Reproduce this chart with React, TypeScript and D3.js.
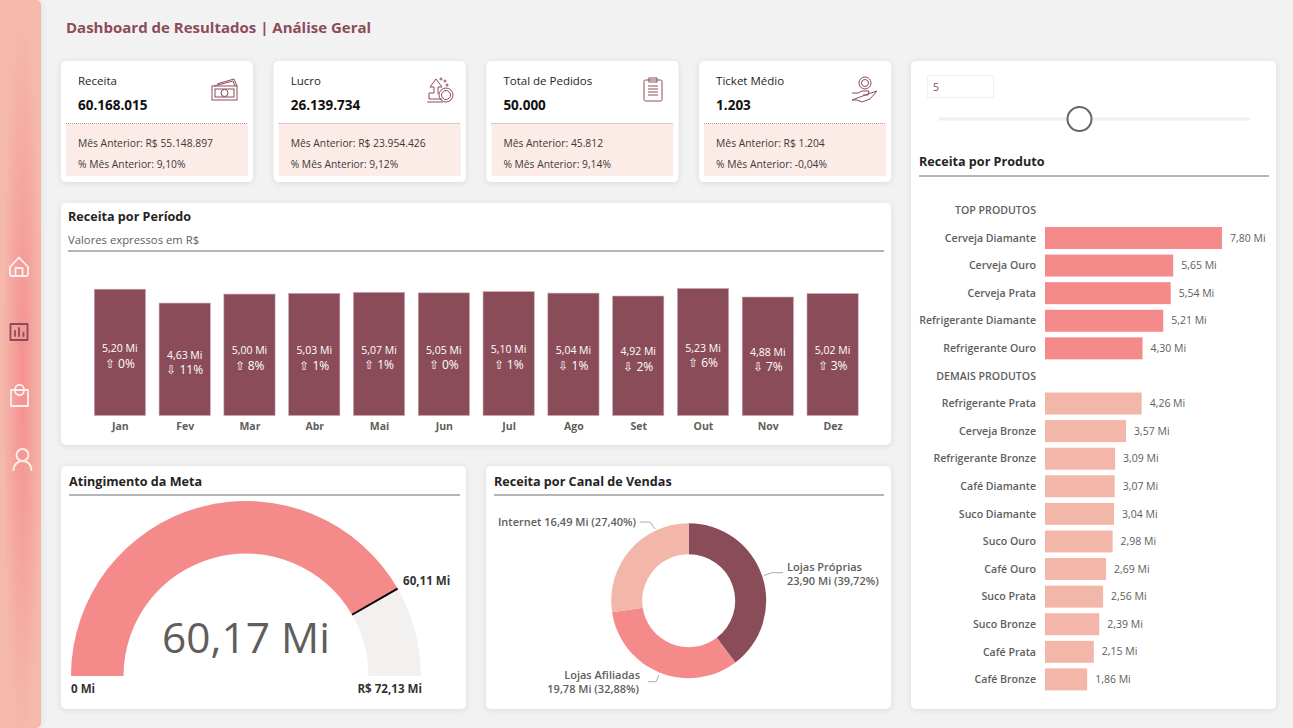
import * as d3 from 'd3';

const FONT = '"Open Sans", sans-serif';
const WINE = '#8b4c5a';
const PINK = '#f58a8a';
const PEACH = '#f2b7a9';
const BLUSH = '#fcece8';
const TEXT = '#252423';
const GREY = '#605e5c';

const kpiTitles = ['Receita', 'Lucro', 'Total de Pedidos', 'Ticket Médio'];
const kpiValues = ['60.168.015', '26.139.734', '50.000', '1.203'];
const kpiPrevious = ['Mês Anterior: R$ 55.148.897', 'Mês Anterior: R$ 23.954.426', 'Mês Anterior: 45.812', 'Mês Anterior: R$ 1.204'];
const kpiChange = ['% Mês Anterior: 9,10%', '% Mês Anterior: 9,12%', '% Mês Anterior: 9,14%', '% Mês Anterior: -0,04%'];

const months = ['Jan', 'Fev', 'Mar', 'Abr', 'Mai', 'Jun', 'Jul', 'Ago', 'Set', 'Out', 'Nov', 'Dez'];
const monthRevenue = [5.2, 4.63, 5.0, 5.03, 5.07, 5.05, 5.1, 5.04, 4.92, 5.23, 4.88, 5.02];
const monthChange = ['⇧ 0%', '⇩ 11%', '⇧ 8%', '⇧ 1%', '⇧ 1%', '⇧ 0%', '⇧ 1%', '⇩ 1%', '⇩ 2%', '⇧ 6%', '⇩ 7%', '⇧ 3%'];

const topProducts = ['Cerveja Diamante', 'Cerveja Ouro', 'Cerveja Prata', 'Refrigerante Diamante', 'Refrigerante Ouro'];
const topRevenue = [7.8, 5.65, 5.54, 5.21, 4.3];
const otherProducts = ['Refrigerante Prata', 'Cerveja Bronze', 'Refrigerante Bronze', 'Café Diamante', 'Suco Diamante', 'Suco Ouro', 'Café Ouro', 'Suco Prata', 'Suco Bronze', 'Café Prata', 'Café Bronze'];
const otherRevenue = [4.26, 3.57, 3.09, 3.07, 3.04, 2.98, 2.69, 2.56, 2.39, 2.15, 1.86];
const TOP_HEADER = 'TOP PRODUTOS';
const OTHER_HEADER = 'DEMAIS PRODUTOS';

const channels = ['Lojas Próprias', 'Lojas Afiliadas', 'Internet'];
const channelRevenue = [23.9, 19.78, 16.49];
const channelColors = [WINE, PINK, PEACH];

const gaugeValue = 60.17;
const gaugeTarget = 60.11;
const gaugeMax = 72.13;

const mi = (v: number) => `${v.toFixed(2).replace('.', ',')} Mi`;

function Card({ x, y, w, h }: { x: number; y: number; w: number; h: number }) {
  return <rect x={x} y={y} width={w} height={h} rx={5} fill="#fff" filter="url(#shadow)" />;
}

function Heading({ x, y, x2, ly, label }: { x: number; y: number; x2: number; ly: number; label: string }) {
  return (
    <g>
      <text x={x} y={y + 0.5} dy="0.35em" fontSize={12.6} fontWeight={700} fill={TEXT}>{label}</text>
      <line x1={x} x2={x2} y1={ly} y2={ly} stroke="#6f6f6f" strokeWidth={1} />
    </g>
  );
}

// little outline icons for the KPI cards
function KpiIcon({ kind, x }: { kind: number; x: number }) {
  const s = { fill: 'none', stroke: WINE, strokeWidth: 1 };
  return (
    <g transform={`translate(${x},76)`} {...s}>
      {kind === 0 && (
        <g>
          <rect x={0} y={10} width={25} height={14} />
          <rect x={3} y={13} width={19} height={8} />
          <circle cx={12.5} cy={17} r={3.5} />
          <path d="M2 10 L21 5 L23 10 M5 8 L22 3 L25 10" />
        </g>
      )}
      {kind === 1 && (
        <g>
          <path d="M2 23 V17 H7 V11 H3 L9 3 L15 11 H11 V18" />
          <path d="M0 26 H16 M2 23 H15" />
          <circle cx={19} cy={19} r={7} />
          <circle cx={19} cy={19} r={4.5} />
          <circle cx={14} cy={3} r={1} />
          <circle cx={18} cy={5} r={1} />
          <circle cx={20} cy={9} r={1} />
        </g>
      )}
      {kind === 2 && (
        <g>
          <rect x={0} y={4} width={18} height={21} rx={1.5} />
          <rect x={5} y={2} width={8} height={4} />
          <path d="M4 10 H14 M4 13 H14 M4 16 H14 M4 19 H14" />
        </g>
      )}
      {kind === 3 && (
        <g>
          <circle cx={13} cy={7} r={6} />
          <circle cx={13} cy={7} r={3.5} />
          <path d="M0 17 H6 L10 15 H17 L16 19 H11 M16 18 L25 15 L18 23 L10 26 L5 24 H0 Z" />
        </g>
      )}
    </g>
  );
}

export default function App() {
  // monthly bars
  const xMonth = d3.scaleBand<string>().domain(months).range([87.5, 865]).paddingInner(0.21).paddingOuter(0.105);
  const yMonth = d3.scaleLinear().domain([0, 5.23]).range([415.5, 288.5]);

  // product rows, the two group headers take a row each
  const productRows = [TOP_HEADER, ...topProducts, OTHER_HEADER, ...otherProducts];
  const yProduct = d3.scalePoint<string>().domain(productRows).range([210.4, 679.4]);
  const xProduct = d3.scaleLinear().domain([0, 7.8]).range([1045, 1222]);

  // gauge
  const gaugeAngle = d3.scaleLinear().domain([0, gaugeMax]).range([-Math.PI / 2, Math.PI / 2]);
  const gaugeArc = d3.arc<unknown, { a: number; b: number }>()
    .innerRadius(122.5).outerRadius(175)
    .startAngle(d => d.a).endAngle(d => d.b);
  const targetA = gaugeAngle(gaugeTarget);

  // donut
  const pie = d3.pie<number>().sort(null)(channelRevenue);
  const donut = d3.arc<d3.PieArcDatum<number>>().innerRadius(46.5).outerRadius(77.5);

  const cardStep = 212.7;

  return (
    <svg width={1293} height={728} style={{ position: 'absolute', left: 0, top: 0, display: 'block' }} fontFamily={FONT}>
      <defs>
        <filter id="shadow" x="-10%" y="-10%" width="120%" height="125%">
          <feDropShadow dx={0} dy={1} stdDeviation={3} floodColor="#000" floodOpacity={0.1} />
        </filter>
        <radialGradient id="glow" cx="0.55" cy="0.52" r="0.5">
          <stop offset="0" stopColor="#f5908f" stopOpacity={1} />
          <stop offset="0.45" stopColor="#f5908f" stopOpacity={0.55} />
          <stop offset="1" stopColor="#f5908f" stopOpacity={0} />
        </radialGradient>
      </defs>

      <rect width={1293} height={728} fill="#f3f2f3" />

      {/* side bar */}
      <rect x={-6} y={0} width={47} height={728} rx={5} fill="#f5b9ac" filter="url(#shadow)" />
      <rect x={0} y={0} width={41} height={728} fill="url(#glow)" />
      <g fill="none" stroke="#fdf1ee" strokeWidth={1.8} strokeLinejoin="round" strokeLinecap="round">
        <path d="M10 267 L19 257.5 L28 267 V274 Q28 276 26 276 H12 Q10 276 10 274 Z M15.5 276 V268 H22.5 V276" />
        <g stroke={WINE}>
          <rect x={10.5} y={324} width={17} height={16} />
          <path d="M15 336 V331 M19 336 V328 M23.5 336 V333" />
        </g>
        <path d="M11 390 H28 V406 H11 Z M15 390 C15 383 24 383 24 390 C24 397 15 397 15 390" />
        <circle cx={22.5} cy={455} r={6} />
        <path d="M13.5 470 C14 458 31 458 31.5 470" />
      </g>

      <text x={66} y={28} dy="0.35em" fontSize={15} fontWeight={700} fill={WINE}>Dashboard de Resultados | Análise Geral</text>

      {/* KPI cards */}
      {kpiTitles.map((title, i) => {
        const x = 61 + i * cardStep;
        return (
          <g key={title}>
            <Card x={x} y={61} w={192} h={121} />
            <rect x={x + 5} y={124} width={182} height={52} fill={BLUSH} />
            <line x1={x + 5} x2={x + 187} y1={123.5} y2={123.5} stroke="#b98f93" strokeDasharray="1 1" />
            <text x={x + 17} y={81} dy="0.35em" fontSize={11.5} fill={TEXT}>{title}</text>
            <text x={x + 17} y={105} dy="0.35em" fontSize={13.5} fontWeight={700} fill="#111">{kpiValues[i]}</text>
            <text x={x + 17} y={143} dy="0.35em" fontSize={10.3} fill="#3b3a39">{kpiPrevious[i]}</text>
            <text x={x + 17} y={164} dy="0.35em" fontSize={10.3} fill="#3b3a39">{kpiChange[i]}</text>
            <KpiIcon kind={i} x={[212, 427, 644, 852][i]} />
          </g>
        );
      })}

      {/* revenue by period */}
      <Card x={61} y={203} w={830} h={242} />
      <Heading x={68} y={216} x2={884} ly={251} label="Receita por Período" />
      <text x={68} y={240} dy="0.35em" fontSize={11.3} fill={GREY}>Valores expressos em R$</text>
      {months.map((m, i) => {
        const v = monthRevenue[i];
        const cx = xMonth(m)! + xMonth.bandwidth() / 2;
        const mid = (yMonth(v) + yMonth(0)) / 2;
        return (
          <g key={m} textAnchor="middle">
            <rect x={xMonth(m)} y={yMonth(v)} width={xMonth.bandwidth()} height={yMonth(0) - yMonth(v)} fill={WINE} stroke="#c9a3ad" strokeWidth={0.6} />
            <text x={cx} y={mid - 4} dy="0.35em" fontSize={10.5} fill="#fff">{mi(v)}</text>
            <text x={cx} y={mid + 11} dy="0.35em" fontSize={12} fill="#fff">{monthChange[i]}</text>
            <text x={cx + 0.5} y={426} dy="0.35em" fontSize={10.5} fontWeight={700} fill={GREY}>{m}</text>
          </g>
        );
      })}

      {/* gauge */}
      <Card x={61} y={466} w={405} h={243} />
      <Heading x={69} y={481} x2={460} ly={495} label="Atingimento da Meta" />
      <g transform="translate(246,676)">
        <path d={gaugeArc({ a: gaugeAngle(0), b: gaugeAngle(gaugeMax) })!} fill="#f2f1f0" />
        <path d={gaugeArc({ a: gaugeAngle(0), b: gaugeAngle(gaugeValue) })!} fill={PINK} />
        <line
          x1={Math.sin(targetA) * 122.5} y1={-Math.cos(targetA) * 122.5}
          x2={Math.sin(targetA) * 175} y2={-Math.cos(targetA) * 175}
          stroke="#000" strokeWidth={2}
        />
      </g>
      <text x={246} y={638} dy="0.35em" textAnchor="middle" fontSize={42.4} fill={GREY}>{mi(gaugeValue)}</text>
      <text x={71} y={689} dy="0.35em" fontSize={11.6} fontWeight={700} fill="#333">0 Mi</text>
      <text x={422} y={689} dy="0.35em" textAnchor="end" fontSize={11.6} fontWeight={700} fill="#333">{`R$ ${mi(gaugeMax)}`}</text>
      <text x={403} y={581} dy="0.35em" fontSize={11.6} fontWeight={700} fill="#333">{mi(gaugeTarget)}</text>

      {/* revenue by channel */}
      <Card x={486} y={466} w={405} h={243} />
      <Heading x={494} y={481} x2={884} ly={495} label="Receita por Canal de Vendas" />
      <g transform="translate(688.7,600.7)">
        {pie.map((d, i) => <path key={channels[i]} d={donut(d)!} fill={channelColors[i]} />)}
      </g>
      <g fill="none" stroke="#aaa" strokeWidth={1}>
        <polyline points="764,575.5 772,572.7 783,572.7" />
        <polyline points="659,675 656,681.7 648,681.7" />
        <polyline points="640,522 650,522 655,529" />
      </g>
      <g fontSize={11} fontWeight={600} fill={GREY}>
        <text x={787} y={567} dy="0.35em">{channels[0]}</text>
        <text x={787} y={581} dy="0.35em">{`${mi(channelRevenue[0])} (39,72%)`}</text>
        <text x={640} y={675} dy="0.35em" textAnchor="end">{channels[1]}</text>
        <text x={639} y={689} dy="0.35em" textAnchor="end">{`${mi(channelRevenue[1])} (32,88%)`}</text>
        <text x={636} y={522} dy="0.35em" textAnchor="end">{`${channels[2]} ${mi(channelRevenue[2])} (27,40%)`}</text>
      </g>

      {/* revenue by product */}
      <Card x={911} y={61} w={365} h={648} />
      <rect x={927.5} y={75.5} width={66} height={22} fill="#fff" stroke="#f0efef" />
      <text x={933} y={87} dy="0.35em" fontSize={10.5} fill={WINE}>5</text>
      <line x1={939} x2={1250} y1={119} y2={119} stroke="#f0efef" strokeWidth={3} />
      <circle cx={1079.5} cy={119} r={12} fill="#fff" stroke="#666" strokeWidth={2} />
      <Heading x={919} y={161} x2={1269} ly={176} label="Receita por Produto" />
      {[TOP_HEADER, OTHER_HEADER].map(h => (
        <text key={h} x={1036} y={yProduct(h)} dy="0.35em" textAnchor="end" fontSize={10.6} fontWeight={600} fill={GREY}>{h}</text>
      ))}
      {[topProducts, otherProducts].map((names, g) => names.map((name, i) => {
        const v = (g === 0 ? topRevenue : otherRevenue)[i];
        const cy = yProduct(name)!;
        return (
          <g key={name}>
            <text x={1036} y={cy} dy="0.35em" textAnchor="end" fontSize={10.6} fontWeight={600} fill={GREY}>{name}</text>
            <rect x={xProduct(0)} y={cy - 11} width={xProduct(v) - xProduct(0)} height={22} fill={g === 0 ? PINK : PEACH} />
            <text x={xProduct(v) + 8} y={cy} dy="0.35em" fontSize={10.5} fill={GREY}>{mi(v)}</text>
          </g>
        );
      }))}
    </svg>
  );
}
